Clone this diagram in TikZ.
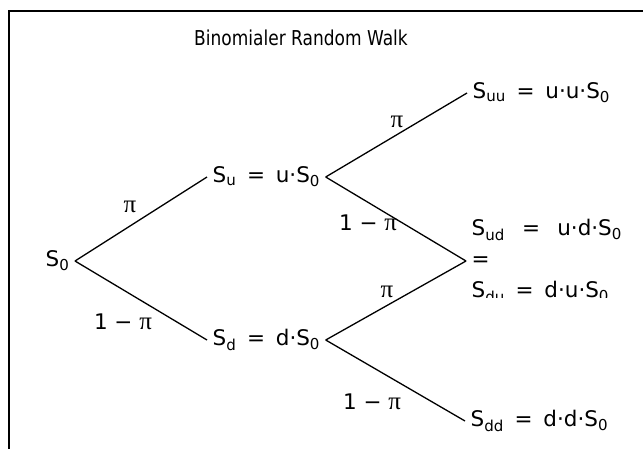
\documentclass[tikz,border=0pt]{standalone}
\usepackage{fontspec}
\setmainfont{DejaVu Sans}
\newfontfamily\titlefont{DejaVu Sans}[FakeStretch=0.83]
\newfontfamily\pifont{Liberation Serif}
\newcommand{\pii}{{\pifont\fontsize{25}{25}\selectfont π}}
\newcommand{\sub}[1]{\textsubscript{#1}}
\newcommand{\eq}{\hspace{.5em}=\hspace{.5em}}

\begin{document}
\begin{tikzpicture}[x=1pt, y=-1pt, line width=1.3pt,
    font=\fontsize{21.5}{25}\selectfont,
    state/.style={inner sep=5pt, anchor=west},
    prob/.style={inner sep=1pt}]
  \useasboundingbox (0,0) rectangle (643,448);
  % frame, runs off the page
  \draw[line width=1.5pt] (9,470) -- (9,11) -- (670,11);
  \node[font=\titlefont\fontsize{20.5}{24}\selectfont] (title) at (301,38) {Binomialer Random Walk};
  % states
  \node[state, anchor=east] (s0) at (75,261) {S\sub{0}};
  \node[state] (su) at (207,177) {S\sub{u}\eq u·S\sub{0}};
  \node[state] (sd) at (207,340) {S\sub{d}\eq d·S\sub{0}};
  \node[state] (suu) at (467,93) {S\sub{uu}\eq u·u·S\sub{0}};
  \begin{scope}
    \clip (0,0) rectangle (643,297);
    \node[state, align=left, font=\fontsize{21.5}{31}\selectfont] (sud) at (466,261)
      {S\sub{ud}\hspace{.8em}=\hspace{.8em}u·d·S\sub{0}\\=\\S\sub{du}\eq d·u·S\sub{0}};
  \end{scope}
  \node[state] (sdd) at (465,421) {S\sub{dd}\eq d·d·S\sub{0}};
  % branches
  \draw (s0.east) -- (su.west);
  \draw (s0.east) -- (sd.west);
  \draw (su.east) -- (suu.west);
  \draw (su.east) -- (sud.west);
  \draw (sd.east) -- (sud.west);
  \draw (sd.east) -- (sdd.west);
  % probabilities
  \node[prob] (p1) at (130,207) {\pii};
  \node[prob] (q1) at (123,322) {1 − \pii};
  \node[prob] (p2) at (397,122) {\pii};
  \node[prob] (q2) at (368,223) {1 − \pii};
  \node[prob] (p3) at (387,292) {\pii};
  \node[prob] (q3) at (372,402) {1 − \pii};
\end{tikzpicture}
\end{document}
